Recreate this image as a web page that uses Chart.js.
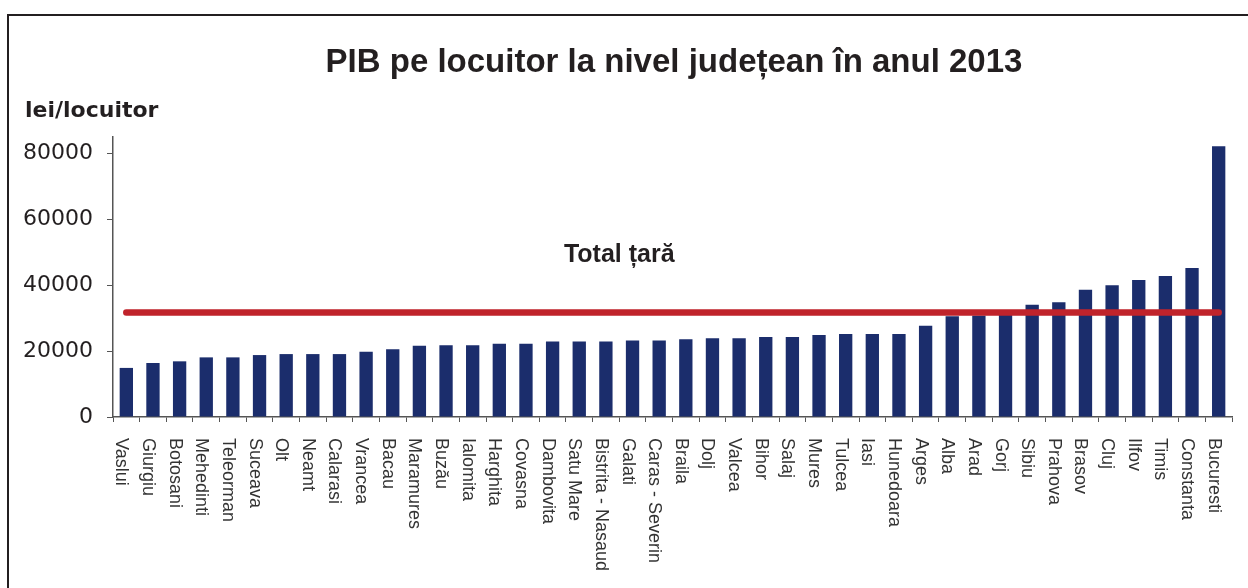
<!DOCTYPE html>
<html>
<head>
<meta charset="utf-8">
<script src="https://cdn.jsdelivr.net/npm/chart.js@4.4.1/dist/chart.umd.min.js"></script>
<style>
    body { margin: 0; background: #fff; }
    #wrap { position: relative; width: 1248px; height: 588px; }
</style>
</head>
<body>
<div id="wrap"><canvas id="pibChart"></canvas></div>
<script>
// Judete, sorted ascending by PIB per capita (2013)
const judete = ['Vaslui', 'Giurgiu', 'Botosani', 'Mehedinti', 'Teleorman', 'Suceava', 'Olt', 'Neamt',
    'Calarasi', 'Vrancea', 'Bacau', 'Maramures', 'Buzău', 'Ialomita', 'Harghita', 'Covasna',
    'Dambovita', 'Satu Mare', 'Bistrita - Nasaud', 'Galati', 'Caras - Severin', 'Braila', 'Dolj',
    'Valcea', 'Bihor', 'Salaj', 'Mures', 'Tulcea', 'Iasi', 'Hunedoara', 'Arges', 'Alba', 'Arad',
    'Gorj', 'Sibiu', 'Prahova', 'Brasov', 'Cluj', 'Ilfov', 'Timis', 'Constanta', 'Bucuresti'];

// lei/locuitor
const pibLocuitor = [14900, 16400, 16900, 18100, 18100, 18800, 19100, 19100, 19100, 19800,
    20600, 21600, 21800, 21800, 22200, 22200, 22900, 22900, 22900, 23200, 23200, 23600, 23900,
    23900, 24300, 24300, 24900, 25200, 25200, 25200, 27700, 30600, 30800, 31000, 34100, 34800,
    38600, 40000, 41600, 42800, 45200, 82200];

const totalTara = 31700;
const yTicks = [0, 20000, 40000, 60000, 80000];
const yMax = 85000;

const TITLE = 'PIB pe locuitor la nivel județean în anul 2013';
const Y_LABEL = 'lei/locuitor';
const LINE_LABEL = 'Total țară';

const INK = '#231f20';

// Titles, frame and the vertical category labels
const textPlugin = {
    id: 'textPlugin',
    afterDraw(chart) {
        const ctx = chart.ctx;
        const x = chart.scales.x;
        const y = chart.scales.y;
        ctx.save();

        // frame (only top and left edges are visible in the original)
        ctx.fillStyle = INK;
        ctx.fillRect(7, 14, 2, 600);
        ctx.fillRect(7, 14, 1260, 2);

        ctx.fillStyle = INK;
        ctx.textBaseline = 'middle';
        ctx.textAlign = 'center';
        ctx.font = 'bold 33px "Liberation Sans Narrow", "Liberation Sans", Arial, sans-serif';
        ctx.fillText(TITLE, 674, 63);

        ctx.textAlign = 'left';
        ctx.font = 'bold 22px "DejaVu Sans", sans-serif';
        ctx.fillText(Y_LABEL, 25, 111);

        // label of the national average line
        ctx.textAlign = 'center';
        ctx.font = 'bold 25px "Liberation Sans", Arial, sans-serif';
        const midX = (x.getPixelForValue(18) + x.getPixelForValue(19)) / 2;
        ctx.fillText(LINE_LABEL, midX, y.getPixelForValue(49000));

        // category labels, read top to bottom
        ctx.fillStyle = '#333';
        ctx.font = '18px "Liberation Sans", Arial, sans-serif';
        ctx.textAlign = 'left';
        judete.forEach((name, i) => {
            ctx.save();
            ctx.translate(x.getPixelForValue(i) - 5, 438);
            ctx.rotate(Math.PI / 2);
            ctx.fillText(name, 0, 0);
            ctx.restore();
        });
        ctx.restore();
    }
};

const ctx = document.getElementById('pibChart').getContext('2d');
const chart = new Chart(ctx, {
    type: 'bar',
    data: {
        labels: judete,
        datasets: [{
            type: 'line',
            data: judete.map(() => totalTara),
            borderColor: '#c0232b',
            borderWidth: 6.5,
            borderCapStyle: 'round',
            pointRadius: 0,
            order: 0
        }, {
            data: pibLocuitor,
            backgroundColor: '#1b2d6c',
            categoryPercentage: 1,
            barPercentage: 0.5,
            order: 1
        }]
    },
    options: {
        responsive: true,
        maintainAspectRatio: false,
        animation: false,
        layout: { padding: { top: 137, right: 16, bottom: 0, left: 0 } },
        plugins: {
            legend: { display: false },
            tooltip: { enabled: false },
            title: { display: false }
        },
        scales: {
            x: {
                offset: true,
                grid: { offset: true, drawOnChartArea: false, drawTicks: true, tickLength: 5, color: '#555' },
                border: { display: true, color: '#555', width: 1.5 },
                ticks: { display: false },
                afterFit(scale) { scale.height = 171; }
            },
            y: {
                min: 0,
                max: yMax,
                grid: { drawOnChartArea: false, drawTicks: true, tickLength: 6, color: '#555' },
                border: { display: true, color: '#555', width: 1.5 },
                ticks: {
                    stepSize: 20000,
                    padding: 14,
                    color: INK,
                    font: { family: '"DejaVu Sans", sans-serif', size: 22 },
                    callback: v => String(v)
                },
                afterBuildTicks(scale) {
                    scale.ticks = yTicks.map(v => ({ value: v }));
                },
                afterFit(scale) { scale.width = 113; }
            }
        }
    },
    plugins: [textPlugin]
});
</script>
</body>
</html>
